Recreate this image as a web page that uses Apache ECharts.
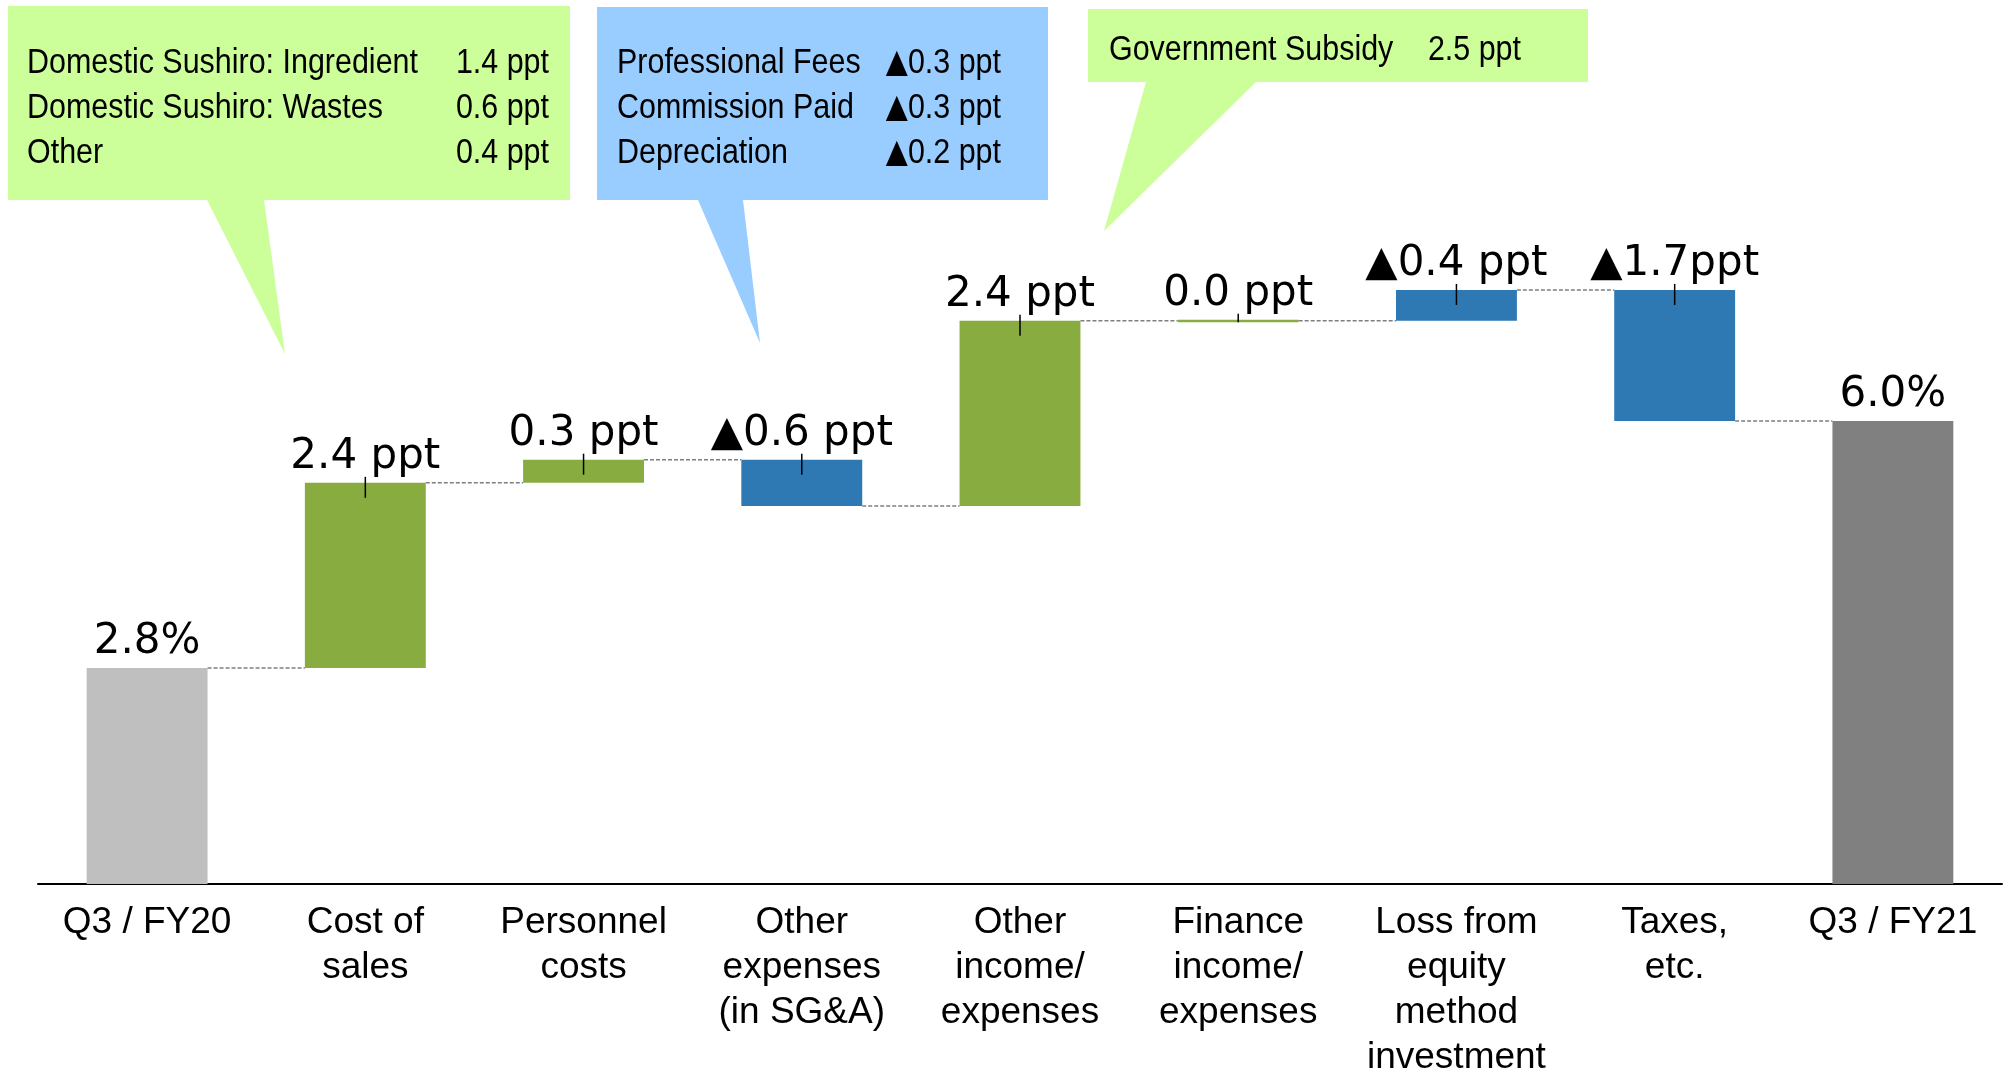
<!DOCTYPE html>
<html><head><meta charset="utf-8">
<script src="https://cdn.jsdelivr.net/npm/echarts@6/dist/echarts.min.js"></script>
<style>html,body{margin:0;padding:0;background:#fff}#c{width:2014px;height:1074px}</style>
</head><body><div id="c"></div>
<script>
// ---- data ----
const categories = ['Q3 / FY20','Cost of\nsales','Personnel\ncosts','Other\nexpenses\n(in SG&A)','Other\nincome/\nexpenses','Finance\nincome/\nexpenses','Loss from\nequity\nmethod\ninvestment','Taxes,\netc.','Q3 / FY21'];
const barStart = [0, 2.8, 5.2, 5.5, 4.9, 7.3, 7.3, 7.7, 0];
const barEnd   = [2.8, 5.2, 5.5, 4.9, 7.3, 7.3, 7.7, 6.0, 6.0];
const barLabels = ['2.8%','2.4 ppt','0.3 ppt','▲0.6 ppt','2.4 ppt','0.0 ppt','▲0.4 ppt','▲1.7ppt','6.0%'];
const barKinds = ['total','up','up','down','up','up','down','down','grand'];
const callout1 = [['Domestic Sushiro: Ingredient','1.4 ppt'],['Domestic Sushiro: Wastes','0.6 ppt'],['Other','0.4 ppt']];
const callout2 = [['Professional Fees','▲0.3 ppt'],['Commission Paid','▲0.3 ppt'],['Depreciation','▲0.2 ppt']];
const callout3 = [['Government Subsidy','2.5 ppt']];

// ---- styles ----
const kindColor = {total:'#BFBFBF', up:'#88AC3F', down:'#2E78B4', grand:'#808080'};
const n = categories.length;

function renderItem(params, api) {
  const i = params.dataIndex;
  const s = api.value(1), e = api.value(2);
  const bandW = api.size([1, 0])[0];
  const bw = bandW * 0.554;
  const pS = api.coord([i, s]);
  const pE = api.coord([i, e]);
  const cx = pS[0];
  let top = Math.min(pS[1], pE[1]);
  let bot = Math.max(pS[1], pE[1]);
  if (bot - top < 2) { const m = (top + bot) / 2; top = m - 1; bot = m + 1.5; }
  const kind = barKinds[i];
  const children = [{
    type: 'rect',
    shape: {x: cx - bw / 2, y: top, width: bw, height: bot - top},
    style: {fill: kindColor[kind]}
  }];
  if (kind === 'up' || kind === 'down') {
    children.push({
      type: 'line',
      shape: {x1: cx, y1: top - 6, x2: cx, y2: Math.min(top + 15, bot)},
      style: {stroke: '#000', lineWidth: 1.5}
    });
  }
  if (i < n - 1) {
    const pN = api.coord([i + 1, e]);
    children.push({
      type: 'line',
      shape: {x1: cx + bw / 2, y1: pE[1], x2: pN[0] - bw / 2, y2: pE[1]},
      style: {stroke: '#7F7F7F', lineWidth: 1.5, lineDash: [4, 2]}
    });
  }
  children.push({
    type: 'text',
    style: {
      text: barLabels[i], x: cx, y: top - 5,
      align: 'center', verticalAlign: 'bottom',
      font: '42px "DejaVu Sans"', fill: '#000'
    }
  });
  return {type: 'group', children: children};
}

function richVal(t) {
  return t.indexOf('▲') === 0 ? '{tri|▲}' + t.slice(1) : t;
}

function calloutTexts(items, xLeft, xRight, ys) {
  const out = [];
  const rich = {tri: {fontFamily: '"DejaVu Sans"', fontSize: 33, fill: '#000'}};
  items.forEach((row, k) => {
    out.push({type: 'text', x: xLeft, y: ys[k], scaleX: 0.87, z: 10,
      style: {text: row[0], font: '35px "Liberation Sans"', fill: '#000', align: 'left', verticalAlign: 'middle'}});
    out.push({type: 'text', x: xRight, y: ys[k], scaleX: 0.87, z: 10,
      style: {text: richVal(row[1]), font: '35px "Liberation Sans"', fill: '#000', align: 'right', verticalAlign: 'middle', rich: rich}});
  });
  return out;
}

const graphics = [
  {type: 'polygon', z: 5, shape: {points: [[8,6],[570,6],[570,200],[264,200],[285,354],[207,200],[8,200]]}, style: {fill: '#CCFF99'}},
  {type: 'polygon', z: 5, shape: {points: [[597,7],[1048,7],[1048,200],[743,200],[760,343],[698,200],[597,200]]}, style: {fill: '#99CCFF'}},
  {type: 'polygon', z: 5, shape: {points: [[1088,9],[1588,9],[1588,82],[1256,82],[1104,231],[1146,82],[1088,82]]}, style: {fill: '#CCFF99'}}
].concat(
  calloutTexts(callout1, 27, 549, [63, 108, 153]),
  calloutTexts(callout2, 617, 1001, [63, 108, 153]),
  calloutTexts(callout3, 1109, 1521, [50.5])
);

const chart = echarts.init(document.getElementById('c'), null, {renderer: 'canvas'});
chart.setOption({
  animation: false,
  backgroundColor: '#fff',
  grid: {left: 38, right: 12, top: 112.5, bottom: 190, outerBoundsMode: 'none', containLabel: false},
  xAxis: {
    type: 'category', data: categories,
    axisLine: {lineStyle: {color: '#000', width: 2}},
    axisTick: {show: false},
    axisLabel: {interval: 0, margin: 16, fontFamily: '"Liberation Sans"', fontSize: 37, lineHeight: 45, color: '#000'}
  },
  yAxis: {type: 'value', min: 0, max: 10, show: false},
  series: [{
    type: 'custom',
    renderItem: renderItem,
    encode: {x: 0, y: [1, 2]},
    data: categories.map((c, i) => [i, barStart[i], barEnd[i]]),
    z: 2
  }],
  graphic: graphics
});
</script></body></html>
